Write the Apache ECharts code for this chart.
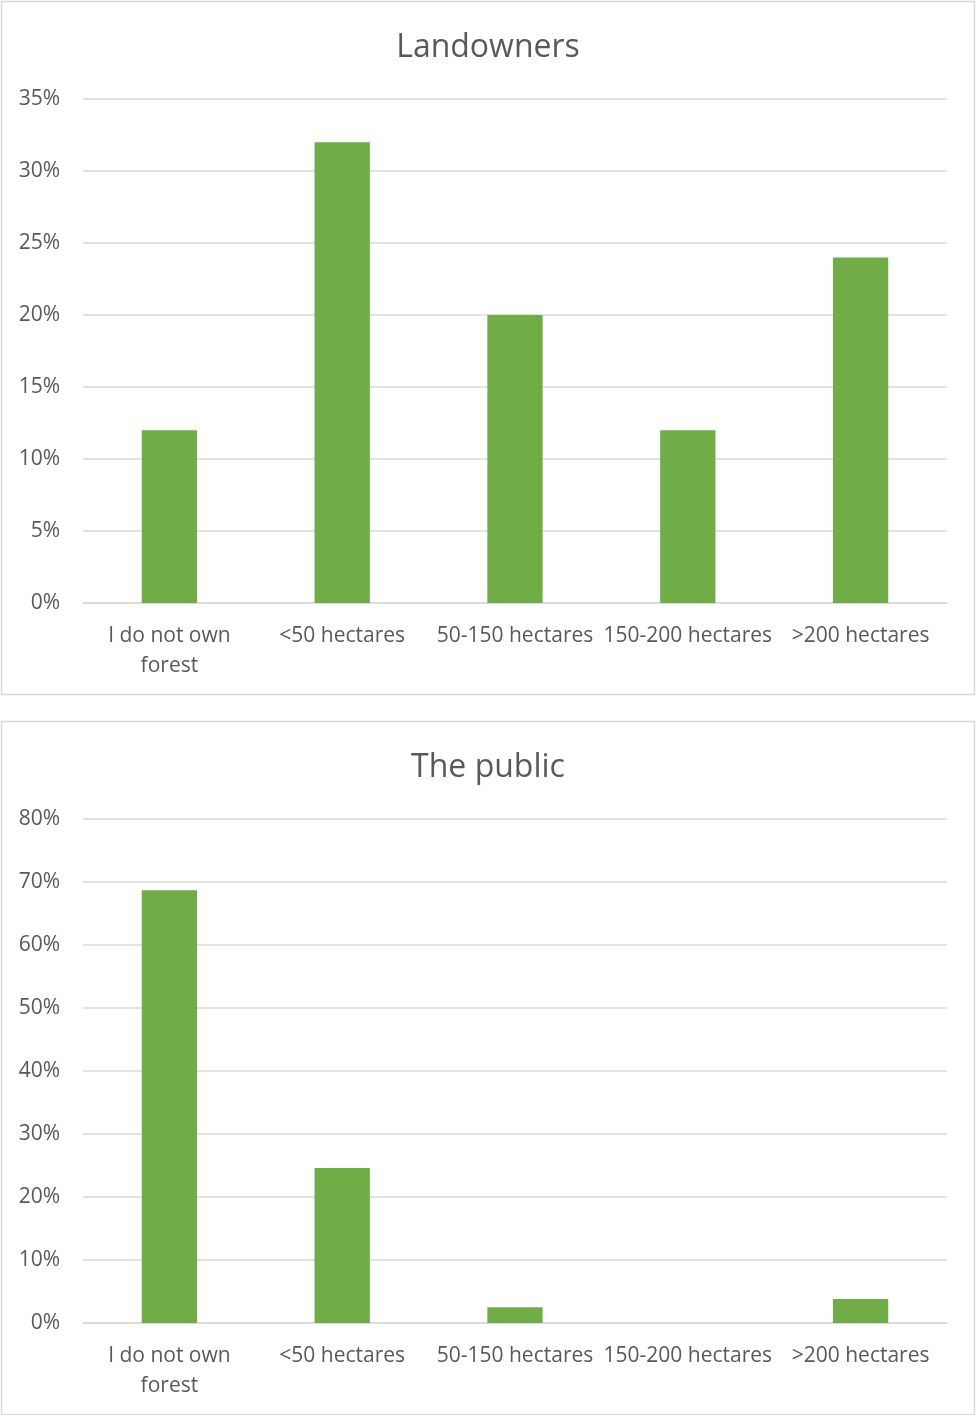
<!DOCTYPE html>
<html>
<head>
<meta charset="utf-8">
<script src="https://cdn.jsdelivr.net/npm/echarts@6/dist/echarts.min.js"></script>
<style>
html,body{margin:0;padding:0;background:#fff;}
#c{width:976px;height:1415px;}
</style>
</head>
<body>
<div id="c"></div>
<script>
var categories = ['I do not own\nforest', '<50 hectares', '50-150 hectares', '150-200 hectares', '>200 hectares'];
var titles = ['Landowners', 'The public'];
var landowners = [12, 32, 20, 12, 24];
var publicVals = [68.7, 24.6, 2.5, 0, 3.8];
var axisMax = [35, 80];
var axisStep = [5, 10];

var FONT = '"Open Sans", sans-serif';
var TXT = '#595959';
var GRID = '#d9d9d9';
var GREEN = '#70ad47';
var panelTop = [1, 721];
var panelH = 693;

var chart = echarts.init(document.getElementById('c'), null, {renderer: 'canvas'});

function xAxis(i) {
  return {
    type: 'category', gridIndex: i, data: categories,
    axisLine: {show: true, lineStyle: {color: GRID, width: 1.5}},
    axisTick: {show: false},
    axisLabel: {color: TXT, fontSize: 21, fontFamily: FONT, margin: 18, lineHeight: 30, interval: 0}
  };
}
function yAxis(i) {
  return {
    type: 'value', gridIndex: i, min: 0, max: axisMax[i], interval: axisStep[i],
    axisLine: {show: false}, axisTick: {show: false},
    splitLine: {lineStyle: {color: GRID, width: 1.5}},
    axisLabel: {color: TXT, fontSize: 21, fontFamily: FONT, margin: 23, padding: [3, 0, 0, 0], formatter: '{value}%'}
  };
}
function series(i, data) {
  return {
    type: 'bar', xAxisIndex: i, yAxisIndex: i, data: data, barWidth: '32%',
    itemStyle: {color: GREEN}, silent: true, animation: false
  };
}

chart.setOption({
  animation: false,
  title: [
    {text: titles[0], left: 'center', top: 27, textStyle: {color: TXT, fontSize: 32, fontWeight: 'normal', fontFamily: FONT}},
    {text: titles[1], left: 'center', top: 747, textStyle: {color: TXT, fontSize: 32, fontWeight: 'normal', fontFamily: FONT}}
  ],
  graphic: [
    {type: 'rect', shape: {x: 1.5, y: panelTop[0] + 0.5, width: 973, height: panelH}, style: {fill: 'none', stroke: GRID, lineWidth: 1.5}, silent: true},
    {type: 'rect', shape: {x: 1.5, y: panelTop[1] + 0.5, width: 973, height: panelH}, style: {fill: 'none', stroke: GRID, lineWidth: 1.5}, silent: true}
  ],
  grid: [
    {left: 83, width: 864, top: 99, height: 504},
    {left: 83, width: 864, top: 819, height: 504}
  ],
  xAxis: [xAxis(0), xAxis(1)],
  yAxis: [yAxis(0), yAxis(1)],
  series: [series(0, landowners), series(1, publicVals)]
});
</script>
</body>
</html>
